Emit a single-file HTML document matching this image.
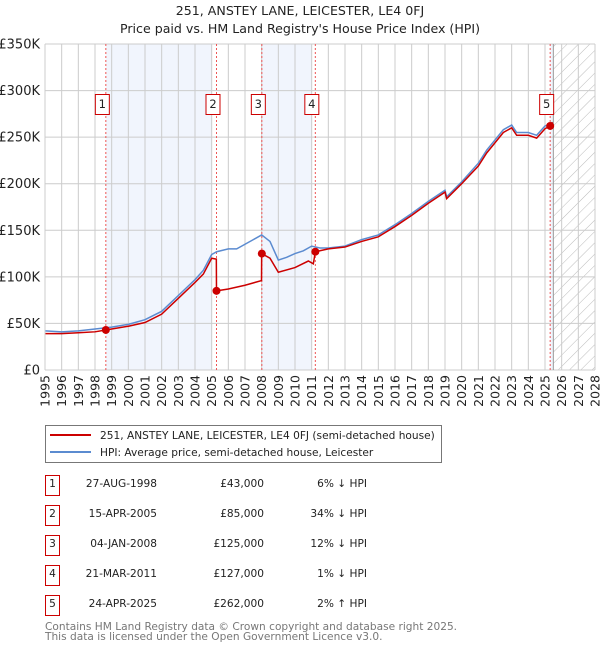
<!DOCTYPE html>
<html><head><meta charset="utf-8"><style>
body{margin:0;background:#fff;font-family:"DejaVu Sans","Liberation Sans",sans-serif;}
svg{display:block}
</style></head><body>
<svg id="c" width="600" height="650" xmlns="http://www.w3.org/2000/svg" font-family="DejaVu Sans, Liberation Sans, sans-serif">
<defs><pattern id="hatch" width="8" height="8" patternUnits="userSpaceOnUse" patternTransform="rotate(45)"><line x1="0" y1="0" x2="0" y2="8" stroke="#bbb" stroke-width="1"/></pattern></defs>
<text x="300" y="15" text-anchor="middle" font-size="12.6" fill="#222">251, ANSTEY LANE, LEICESTER, LE4 0FJ</text>
<text x="300" y="33" text-anchor="middle" font-size="12.6" fill="#222">Price paid vs. HM Land Registry's House Price Index (HPI)</text>
<g id="plot"></g>
<g>
<rect x="45.5" y="425.5" width="396" height="37" fill="#fff" stroke="#777"/>
<line x1="50" y1="435" x2="91" y2="435" stroke="#cc0000" stroke-width="2"/>
<text x="100" y="439" font-size="10.6" fill="#222">251, ANSTEY LANE, LEICESTER, LE4 0FJ (semi-detached house)</text>
<line x1="50" y1="452" x2="91" y2="452" stroke="#5b8bd0" stroke-width="2"/>
<text x="100" y="456" font-size="10.6" fill="#222">HPI: Average price, semi-detached house, Leicester</text>
</g>
<g id="table" font-size="10.6" fill="#222"></g>
<text x="45" y="630" font-size="10.6" fill="#777">Contains HM Land Registry data © Crown copyright and database right 2025.</text>
<text x="45" y="640" font-size="10.6" fill="#777">This data is licensed under the Open Government Licence v3.0.</text>
</svg>
<script>
const hpiYears=[1995,1996,1997,1998,1999,2000,2001,2002,2003,2004,2004.5,2005,2005.3,2006,2006.5,2007,2007.5,2008,2008.5,2009,2009.5,2010,2010.5,2011,2011.5,2012,2013,2014,2015,2016,2017,2018,2019,2019.1,2020,2021,2021.5,2022,2022.5,2023,2023.3,2024,2024.5,2025,2025.3,2025.45];
const hpiValues=[42,41,42,44,46,49,54,63,80,97,107,124,127,130,130,135,140,145,138,118,121,125,128,133,131,131,133,140,145,156,168,181,193,186,202,222,236,247,258,263,255,255,252,262,264,266];
const paidYears=[1995,1996,1997,1998,1998.65,1999,2000,2001,2002,2003,2004,2004.5,2005,2005.28,2005.29,2006,2007,2007.99,2008.0,2008.5,2009,2010,2010.8,2011.1,2011.22,2012,2013,2014,2015,2016,2017,2018,2019,2019.1,2020,2021,2021.5,2022,2022.5,2023,2023.3,2024,2024.5,2025,2025.31,2025.45];
const paidValues=[39,39,40,41,43,44,47,51,60,77,94,103,120,119,85,87,91,96,125,120,105,110,117,114,127,130,132,138,143,154,166,179,191,184,200,219,233,244,255,260,252,252,249,259,262,266];
const saleYears=[1998.65,2005.29,2008.01,2011.22,2025.31];
const salePrices=[43,85,125,127,262];
const saleLabels=["1","2","3","4","5"];
const saleDates=["27-AUG-1998","15-APR-2005","04-JAN-2008","21-MAR-2011","24-APR-2025"];
const salePriceText=["£43,000","£85,000","£125,000","£127,000","£262,000"];
const saleHpiText=["6% \u2193 HPI","34% \u2193 HPI","12% \u2193 HPI","1% \u2193 HPI","2% \u2191 HPI"];
const yTicks=[0,50,100,150,200,250,300,350];
const yTickLabels=["£0","£50K","£100K","£150K","£200K","£250K","£300K","£350K"];
const xTicks=[1995,1996,1997,1998,1999,2000,2001,2002,2003,2004,2005,2006,2007,2008,2009,2010,2011,2012,2013,2014,2015,2016,2017,2018,2019,2020,2021,2022,2023,2024,2025,2026,2027,2028];

const NS="http://www.w3.org/2000/svg";
const X0=45,X1=595,Y0=370,Y1=44;
const xs=y=>X0+(y-1995)/(2028-1995)*(X1-X0);
const ys=v=>Y0-v/350*(Y0-Y1);
function mk(tag,attrs,parent){const e=document.createElementNS(NS,tag);for(const k in attrs)e.setAttribute(k,attrs[k]);parent.appendChild(e);return e;}
const plot=document.getElementById('plot');

const bands=[[1998.65,2005.0],[2008.0,2011.0],[2025.31,2025.5]];
bands.forEach((b,i)=>{const r=mk('rect',{x:xs(b[0]),y:Y1,width:xs(b[1])-xs(b[0]),height:Y0-Y1,fill:'#eef3fd',opacity:0.8},plot);

});
const h=mk('rect',{x:xs(2025.5),y:Y1,width:X1-xs(2025.5),height:Y0-Y1,fill:'url(#hatch)'},plot);



yTicks.forEach((t,i)=>{mk('line',{x1:X0,x2:X1,y1:ys(t),y2:ys(t),stroke:'#ccc','stroke-width':1},plot);
const tx=mk('text',{x:40,y:ys(t)+4.5,'text-anchor':'end','font-size':13,fill:'#222'},plot);tx.textContent=yTickLabels[i];

});
xTicks.forEach(t=>{mk('line',{x1:xs(t),x2:xs(t),y1:Y1,y2:Y0,stroke:'#ccc','stroke-width':1},plot);
const tx=mk('text',{x:0,y:0,'text-anchor':'end','font-size':12.5,fill:'#222',transform:`translate(${xs(t)+4.5},${Y0+5}) rotate(-90)`},plot);tx.textContent=t;

});
mk('line',{x1:xs(2025.5),x2:xs(2025.5),y1:Y1,y2:Y0,stroke:'#999','stroke-width':1},plot);

saleYears.forEach((s,i)=>{const l=mk('line',{x1:xs(s),x2:xs(s),y1:Y1,y2:Y0,stroke:'#e55','stroke-width':1,'stroke-dasharray':'2,2'},plot);


const g=mk('g',{},plot);


const bx=xs(s)+4;
mk('rect',{x:bx-14.5,y:94.5,width:14,height:20,fill:'#fff',stroke:'#cc0000'},g);
const t=mk('text',{x:bx-7.5,y:108,'text-anchor':'middle','font-size':11.5,fill:'#222'},g);t.textContent=saleLabels[i];});

const hp=mk('polyline',{points:hpiYears.map((y,i)=>xs(y)+','+ys(hpiValues[i])).join(' '),fill:'none',stroke:'#5b8bd0','stroke-width':1.5},plot);


const pp=mk('polyline',{points:paidYears.map((y,i)=>xs(y)+','+ys(paidValues[i])).join(' '),fill:'none',stroke:'#cc0000','stroke-width':1.5},plot);


saleYears.forEach((s,i)=>{const d=mk('circle',{cx:xs(s),cy:ys(salePrices[i]),r:4,fill:'#cc0000'},plot);

});
mk('line',{x1:X0,x2:X0,y1:Y1,y2:Y0,stroke:'#ccc'},plot);

const tb=document.getElementById('table');
saleLabels.forEach((lab,i)=>{const y=475+i*30;
const row=mk('g',{},tb);


mk('rect',{x:45.5,y:y+0.5,width:14,height:20,fill:'#fff',stroke:'#cc0000'},row);
const a=mk('text',{x:52.5,y:y+12,'text-anchor':'middle'},row);a.textContent=lab;
const b=mk('text',{x:157,y:y+12,'text-anchor':'end'},row);b.textContent=saleDates[i];
const c=mk('text',{x:264,y:y+12,'text-anchor':'end'},row);c.textContent=salePriceText[i];
const d=mk('text',{x:367,y:y+12,'text-anchor':'end'},row);d.textContent=saleHpiText[i];});
</script>
</body></html>
